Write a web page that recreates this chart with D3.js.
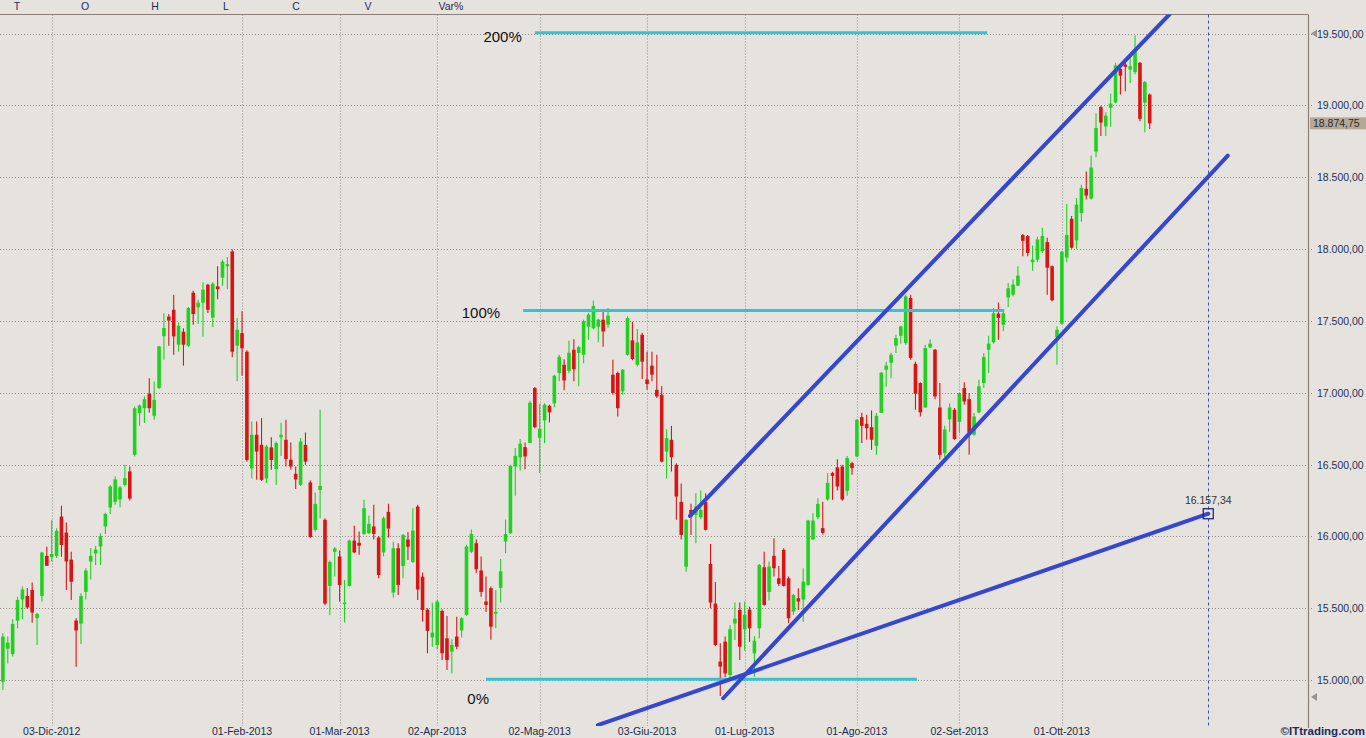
<!DOCTYPE html>
<html><head><meta charset="utf-8">
<script src="https://cdn.jsdelivr.net/npm/d3@7"></script>
<style>body{margin:0;background:#e6e3df;overflow:hidden} svg{display:block}</style>
</head><body><svg id="c" width="1366" height="738"></svg>
<script>
// ---- DATA (FTSE MIB daily candles) ----
const opens = [14988,15218,15181,15413,15560,15585,15627,15430,15585,15864,15855,15864,16138,16026,15838,15414,15393,15613,15825,15880,
15929,16069,16201,16240,16257,16358,16452,16567,16858,16892,16993,16839,17032,17393,17530,17577,17334,17424,17327,17696,
17594,17626,17751,17522,17740,17800,17880,17983,17327,17414,17285,16473,16707,16637,16403,16619,16468,16689,16672,16533,
16435,16358,16637,16375,16045,16323,16115,15655,15892,15860,15530,15655,15970,15955,16017,16022,16068,15992,15888,16170,
15609,15917,15794,15978,15822,16207,15720,15490,15297,15244,15481,15290,15197,15302,15345,15453,15892,15952,15762,15546,
15639,15462,15641,15964,16022,16486,16549,16621,16651,17032,16686,16807,16909,16926,17137,17194,17152,17299,17276,17264,
17459,17448,17459,17508,17473,17125,17137,17009,17264,17364,17194,17403,17092,17188,17020,16985,16590,16672,16498,16240,
15789,16184,16150,16133,16240,15808,15532,15128,15267,15035,15393,15488,15353,15490,15186,15360,15785,15613,15864,15708,
15906,15708,15476,15569,15560,15662,15978,16133,16057,16257,16440,16480,16486,16317,16509,16556,16830,16783,16760,16630,
16860,17160,17208,17327,17396,17345,17659,17201,17067,16897,17315,17299,16897,16579,16814,16881,16797,17032,16955,16707,
16862,17067,17299,17351,17550,17473,17663,17682,17745,18097,18090,17908,17926,17985,18048,17880,17387,17480,17940,18210,
18060,18250,18419,18351,18678,18988,18853,18983,19020,19254,19284,19249,19231,19296,19019,19075];
const highs = [15327,15302,15423,15580,15650,15640,15678,15468,15892,15928,16114,16057,16213,16096,15892,15430,15604,15778,15918,15932,
16022,16165,16358,16416,16350,16498,16486,16903,16918,16973,17101,17078,17327,17553,17548,17682,17489,17448,17596,17710,
17647,17768,17758,17768,17880,17926,17945,17997,17520,17566,17295,16799,16799,16823,16637,16689,16660,16790,16811,16653,
16486,16684,16723,16389,16305,16881,16126,15830,15925,15901,15697,15978,16073,16034,16254,16143,16219,16003,16138,16226,
15963,15952,16017,16031,16196,16219,15748,15500,15537,15557,15490,15446,15283,15441,15437,15941,16048,15980,15860,15720,
15650,15627,15843,16117,16498,16614,16677,16653,16944,17039,16923,16927,16916,17125,17264,17232,17362,17371,17327,17508,
17557,17642,17513,17564,17589,17229,17148,17165,17531,17494,17443,17417,17285,17285,17264,17044,16746,16769,16509,16368,
16119,16226,16300,16319,16300,15947,15683,15255,15302,15383,15539,15539,15546,15511,15307,15808,15892,15825,15987,15794,
15917,15720,15599,15639,15778,16115,16161,16265,16240,16440,16449,16536,16498,16560,16519,16816,16860,16846,16876,16858,
17146,17216,17278,17403,17466,17682,17682,17216,17072,17334,17371,17304,17067,16769,16925,16893,17002,17072,16997,16858,
17090,17276,17396,17589,17628,17577,17764,17787,17880,18104,18097,18024,18085,18148,18079,17885,17462,17988,18313,18229,
18355,18448,18539,18650,18943,18998,18951,19082,19296,19272,19301,19354,19486,19301,19169,19082];
const lows = [14930,15114,15163,15360,15423,15495,15400,15244,15545,15795,15825,15850,15858,15627,15557,15093,15251,15560,15700,15800,
15800,16017,16156,16219,16201,16347,16250,16555,16769,16788,16862,16811,17025,17229,17327,17264,17285,17188,17318,17473,
17480,17390,17555,17455,17650,17744,17720,17246,17079,17118,16520,16403,16393,16385,16372,16463,16358,16560,16486,16463,
16330,16351,16498,15990,16034,16126,15520,15453,15720,15545,15400,15650,15882,15871,16010,16017,15978,15708,15860,15992,
15574,15592,15708,15836,15815,15557,15407,15186,15232,15214,15139,15070,15046,15214,15295,15446,15882,15743,15580,15474,
15281,15360,15539,15882,16017,16282,16459,16467,16649,16753,16440,16649,16793,16898,17079,17016,17135,17079,17044,17205,
17368,17441,17351,17320,17452,16986,16834,16986,17257,17225,17183,17095,17020,17079,16963,16514,16403,16451,16115,15978,
15754,16010,15952,16119,16040,15499,15235,14889,15019,15012,15279,15139,15204,15265,15023,15290,15516,15553,15720,15655,
15650,15395,15453,15488,15406,15655,15974,16119,16012,16247,16254,16319,16247,16282,16428,16551,16649,16672,16602,16567,
16858,17041,17101,17276,17341,17334,17229,16881,16834,16895,17311,16955,16535,16551,16728,16672,16718,16916,16567,16700,
16858,17032,17137,17341,17369,17427,17596,17671,17741,17950,17950,17849,17908,17973,17682,17636,17194,17473,17908,18002,
18002,18190,18344,18344,18638,18786,18786,18851,19014,19075,19098,19156,19217,18890,18812,18836];
const closes = [15302,15260,15390,15557,15630,15505,15470,15460,15887,15795,15878,16038,15940,15825,15684,15345,15585,15762,15864,15908,
16003,16156,16347,16396,16341,16405,16263,16892,16911,16954,16892,16950,17322,17450,17502,17392,17466,17334,17589,17547,
17626,17717,17577,17758,17720,17912,17895,17285,17438,17309,16531,16707,16590,16393,16625,16531,16649,16707,16538,16486,
16396,16660,16520,15995,16226,16351,15532,15822,15915,15662,15539,15970,15888,15935,16196,16087,16017,15731,16126,16054,
15917,15662,16010,15927,16040,15630,15488,15342,15330,15546,15186,15139,15244,15232,15430,15929,16017,15771,15613,15523,
15371,15474,15756,16017,16491,16560,16644,16556,16930,16760,16748,16916,16863,17118,17250,17085,17278,17163,17317,17496,
17543,17603,17508,17426,17536,16998,16892,17160,17519,17234,17350,17216,17060,17125,16974,16520,16683,16551,16277,16010,
16115,16138,16207,16184,16045,15539,15244,15093,15046,15353,15427,15232,15453,15360,15274,15801,15523,15790,15778,15669,
15655,15430,15592,15546,15685,16110,16110,16226,16024,16372,16421,16347,16257,16545,16475,16811,16769,16753,16672,16839,
17139,17188,17264,17380,17461,17670,17242,16992,16863,17311,17341,16974,16567,16744,16897,16677,16997,16939,16723,16834,
17044,17248,17341,17553,17520,17553,17727,17752,17815,18057,17973,17926,18066,18090,17870,17643,17438,17981,18097,18009,
18309,18425,18372,18567,18842,18880,18928,19012,19277,19207,19268,19272,19377,18906,19162,18874.75];
const lastPrice = 18874.75;

const dateTickIndex  = [10, 49, 69, 89, 110, 132, 152, 175, 196, 217];
const dateTickLabels = ["03-Dic-2012","01-Feb-2013","01-Mar-2013","02-Apr-2013","02-Mag-2013","03-Giu-2013","01-Lug-2013","01-Ago-2013","02-Set-2013","01-Ott-2013"];
const priceTicks = [15000,15500,16000,16500,17000,17500,18000,18500,19000,19500];
const headerLabels = ["T","O","H","L","C","V","Var%"];

// Fibonacci-style horizontal levels
const fibNames  = ["0%","100%","200%"];
const fibValues = [15005, 17572, 19505];
const fibFrom   = [99.0, 106.6, 109.0];
const fibTo     = [187.3, 205.2, 201.7];

// Trend lines: [index1, value1, index2, value2]
const trendUpper = [140.8, 16142, 239.2, 19639];
const trendLower = [147.6, 14873, 251.0, 18650];
const trendLong  = [121.9, 14686, 247.0, 16157.34];
const projIndex = 247.0, projValue = 16157.34;

// ---- LAYOUT ----
const W = 1366, H = 738;
const plotRight = 1308, plotTop = 14.5, plotBottom = 726;
const svg = d3.select("#c");
const it = d3.formatLocale({decimal:",", thousands:".", grouping:[3], currency:["",""]});
const fmt = it.format(",.2f");

const x = d3.scaleLinear().domain([0, 235]).range([2.9, 2.9 + 4.88*235]);
const y = d3.scaleLinear().domain([15000, 19500]).range([680, 33.5]);

svg.append("rect").attr("width",W).attr("height",H).attr("fill","#e6e3df");

svg.append("defs").append("clipPath").attr("id","plot")
  .append("rect").attr("x",0).attr("y",plotTop).attr("width",plotRight).attr("height",plotBottom-plotTop);

// gridlines
const grid = svg.append("g").attr("stroke","#8e8a86").attr("stroke-width",1).attr("stroke-dasharray","1,2");
grid.selectAll("line.h").data(priceTicks).join("line")
  .attr("x1",0).attr("x2",plotRight+6)
  .attr("y1",d=>Math.round(y(d))+0.5).attr("y2",d=>Math.round(y(d))+0.5);
grid.selectAll("line.v").data(dateTickIndex).join("line")
  .attr("x1",d=>Math.round(x(d))+0.5).attr("x2",d=>Math.round(x(d))+0.5)
  .attr("y1",plotTop).attr("y2",plotBottom);

// frame
svg.append("line").attr("x1",0).attr("x2",plotRight).attr("y1",plotTop).attr("y2",plotTop)
  .attr("stroke","#8a7f76").attr("stroke-width",1.2);
svg.append("line").attr("x1",plotRight+0.5).attr("x2",plotRight+0.5).attr("y1",plotTop).attr("y2",plotBottom+2)
  .attr("stroke","#8a7f76").attr("stroke-width",1.2);
// scroll arrows
svg.append("path").attr("d",`M${plotRight+3},${y(19500)} l6,-4 l0,8 z`).attr("fill","#9a948e");
svg.append("path").attr("d",`M${plotRight+3},697 l6,-4 l0,8 z`).attr("fill","#9a948e");

// header
const headerX = [17,85,155,226,296,368,451];
svg.append("g").selectAll("text").data(headerLabels).join("text")
  .attr("x",(d,i)=>headerX[i]).attr("y",10).attr("text-anchor","middle")
  .attr("font-family","Arial, Liberation Sans, sans-serif").attr("font-size",10.5)
  .attr("fill","#1c2a5c").text(d=>d);

// price axis labels
svg.append("g").selectAll("text").data(priceTicks).join("text")
  .attr("x",1317).attr("y",d=>y(d)+4).attr("font-family","Arial, Liberation Sans, sans-serif")
  .attr("font-size",10.5).attr("fill","#24305a").text(d=>fmt(d));
// last price tag
svg.append("rect").attr("x",1310).attr("y",y(lastPrice)-6).attr("width",56).attr("height",12).attr("fill","#b5a898");
svg.append("text").attr("x",1313).attr("y",y(lastPrice)+4).attr("font-family","Arial, Liberation Sans, sans-serif")
  .attr("font-size",10.5).attr("fill","#2a2a2a").text(fmt(lastPrice));

// date labels
svg.append("g").selectAll("text").data(dateTickIndex).join("text")
  .attr("x",d=>x(d)).attr("y",735).attr("text-anchor","middle")
  .attr("font-family","Arial, Liberation Sans, sans-serif").attr("font-size",10.5)
  .attr("fill","#1c2a4c").text((d,i)=>dateTickLabels[i]);
svg.append("text").attr("x",1365).attr("y",735).attr("text-anchor","end")
  .attr("font-family","Arial, Liberation Sans, sans-serif").attr("font-size",11.5).attr("font-weight","bold")
  .attr("fill","#1c2a5c").text("©ITtrading.com");

const plot = svg.append("g").attr("clip-path","url(#plot)");

// candles
const idx = d3.range(opens.length);
const green = "#1fd21f", red = "#d91414";
const cg = plot.append("g");
cg.selectAll("line").data(idx).join("line")
  .attr("x1",i=>x(i)).attr("x2",i=>x(i)).attr("y1",i=>y(highs[i])).attr("y2",i=>y(lows[i]))
  .attr("stroke",i=>closes[i]>=opens[i]?green:red).attr("stroke-width",1.1);
cg.selectAll("rect").data(idx).join("rect")
  .attr("x",i=>x(i)-1.8).attr("width",3.6)
  .attr("y",i=>y(Math.max(opens[i],closes[i])))
  .attr("height",i=>Math.max(1.5, Math.abs(y(opens[i])-y(closes[i]))))
  .attr("fill",i=>closes[i]>=opens[i]?green:red);

// fib levels
const cyan = "#35c3d4";
fibValues.forEach((v,i)=>{
  plot.append("line").attr("x1",x(fibFrom[i])).attr("x2",x(fibTo[i])).attr("y1",y(v)).attr("y2",y(v))
    .attr("stroke",cyan).attr("stroke-width",3);
});
const fibLabelDx = [ 3, -23, -13 ];
const fibLabelDy = [ 25, 8, 9 ];
fibNames.forEach((n,i)=>{
  svg.append("text").attr("x",x(fibFrom[i])+fibLabelDx[i]).attr("y",y(fibValues[i])+fibLabelDy[i])
    .attr("text-anchor","end").attr("font-family","Arial, Liberation Sans, sans-serif")
    .attr("font-size",15).attr("fill","#111").text(n);
});

// projection vertical dashed line
svg.append("line").attr("x1",Math.round(x(projIndex))+0.5).attr("x2",Math.round(x(projIndex))+0.5)
  .attr("y1",plotTop).attr("y2",plotBottom).attr("stroke","#3a4ea8").attr("stroke-width",1).attr("stroke-dasharray","3,3");

// trend lines
const blue = "#3446d2";
[trendUpper, trendLower, trendLong].forEach(t=>{
  plot.append("line").attr("x1",x(t[0])).attr("y1",y(t[1])).attr("x2",x(t[2])).attr("y2",y(t[3]))
    .attr("stroke",blue).attr("stroke-width",4).attr("stroke-linecap","round");
});

// projection marker
svg.append("rect").attr("x",x(projIndex)-5).attr("y",y(projValue)-5).attr("width",10).attr("height",10)
  .attr("fill","none").attr("stroke","#1c2a78").attr("stroke-width",1.3);
svg.append("text").attr("x",x(projIndex)).attr("y",y(projValue)-10).attr("text-anchor","middle")
  .attr("font-family","Arial, Liberation Sans, sans-serif").attr("font-size",10.5).attr("fill","#333")
  .text(fmt(projValue));
</script></body></html>
